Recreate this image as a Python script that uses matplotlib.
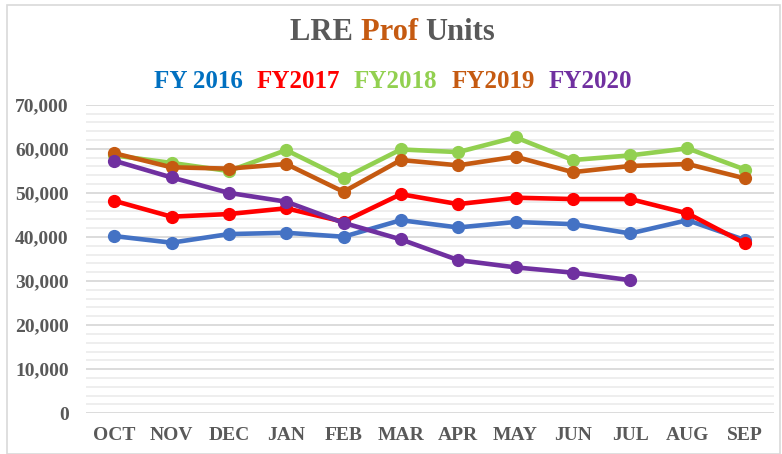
import numpy as np
import matplotlib
matplotlib.use("Agg")
from matplotlib import pyplot as plt
from matplotlib.patches import Rectangle
from matplotlib.ticker import FuncFormatter, MultipleLocator

months = ['OCT', 'NOV', 'DEC', 'JAN', 'FEB', 'MAR', 'APR', 'MAY', 'JUN', 'JUL', 'AUG', 'SEP']
fy2016 = [40200, 38700, 40650, 40950, 40050, 43800, 42150, 43400, 42900, 40800, 43800, 39300]
fy2017 = [48200, 44600, 45200, 46500, 43450, 49700, 47450, 48900, 48600, 48600, 45350, 38550]
fy2018 = [58500, 56800, 54950, 59700, 53300, 59850, 59250, 62600, 57450, 58500, 60100, 55300]
fy2019 = [59000, 55800, 55500, 56550, 50250, 57450, 56250, 58200, 54700, 56100, 56550, 53300]
fy2020 = [57300, 53500, 50000, 48000, 43200, 39450, 34750, 33100, 31900, 30200]

series = [
    ('FY 2016', fy2016, '#4472C4', '#0070C0'),
    ('FY2017', fy2017, '#FF0000', '#FF0000'),
    ('FY2018', fy2018, '#92D050', '#92D050'),
    ('FY2019', fy2019, '#C55A11', '#C55A11'),
    ('FY2020', fy2020, '#7030A0', '#7030A0'),
]

serif = ['Liberation Serif', 'DejaVu Serif']
grey = '#595959'

fig = plt.figure(figsize=(7.82, 4.54), dpi=100)
fig.patches.append(Rectangle((7/782, 0.0), 1 - 7/782 - 0.002, 1 - 5/454, transform=fig.transFigure,
                             fill=False, edgecolor='#D9D9D9', linewidth=1.2))

ax = fig.add_axes([85.5/782, (454-413.3)/454, 688/782, (413.3-104.7)/454])
x = np.arange(len(months))
for name, vals, c, tc in series:
    ax.plot(x[:len(vals)], vals, color=c, linewidth=3.3, marker='o', markersize=8.5, zorder=3)

ax.set_xlim(-0.5, len(months) - 0.5)
ax.set_ylim(0, 70000)
ax.yaxis.set_major_locator(MultipleLocator(10000))
ax.yaxis.set_minor_locator(MultipleLocator(2000))
ax.grid(axis='y', which='major', color='#D9D9D9', linewidth=1.3)
ax.grid(axis='y', which='minor', color='#EDEDED', linewidth=1.3)
ax.set_axisbelow(True)
for s in ax.spines.values():
    s.set_visible(False)
ax.tick_params(axis='both', which='both', length=0)
ax.set_xticks(x)
ax.set_xticklabels(months)
ax.yaxis.set_major_formatter(FuncFormatter(lambda v, p: f'{int(v):,}'))
for lab in ax.get_xticklabels() + ax.get_yticklabels():
    lab.set_fontfamily(serif)
    lab.set_fontweight('bold')
    lab.set_fontsize(14)
    lab.set_color(grey)
ax.tick_params(axis='y', pad=12)
ax.tick_params(axis='x', pad=10)

# title in three colours
r = fig.canvas.get_renderer()
parts = [('LRE ', grey), ('Prof ', '#C55A11'), ('Units', grey)]
texts = [fig.text(0, 0, p, fontsize=22, fontweight='bold', family=serif, color=c) for p, c in parts]
widths = [t.get_window_extent(r).width for t in texts]
xpos = (782 - sum(widths)) / 2 + 2
for t, w in zip(texts, widths):
    t.set_position((xpos / 782, 1 - 32/454))
    t.set_va('center')
    xpos += w

# legend as coloured text
texts = [fig.text(0, 0, n, fontsize=18, fontweight='bold', family=serif, color=tc) for n, v, c, tc in series]
widths = [t.get_window_extent(r).width for t in texts]
gap = 14
xpos = (782 - sum(widths) - gap * (len(widths) - 1)) / 2 + 2
for t, w in zip(texts, widths):
    t.set_position((xpos / 782, 1 - 82/454))
    t.set_va('center')
    xpos += w + gap

fig.savefig('out.png', dpi=100)
